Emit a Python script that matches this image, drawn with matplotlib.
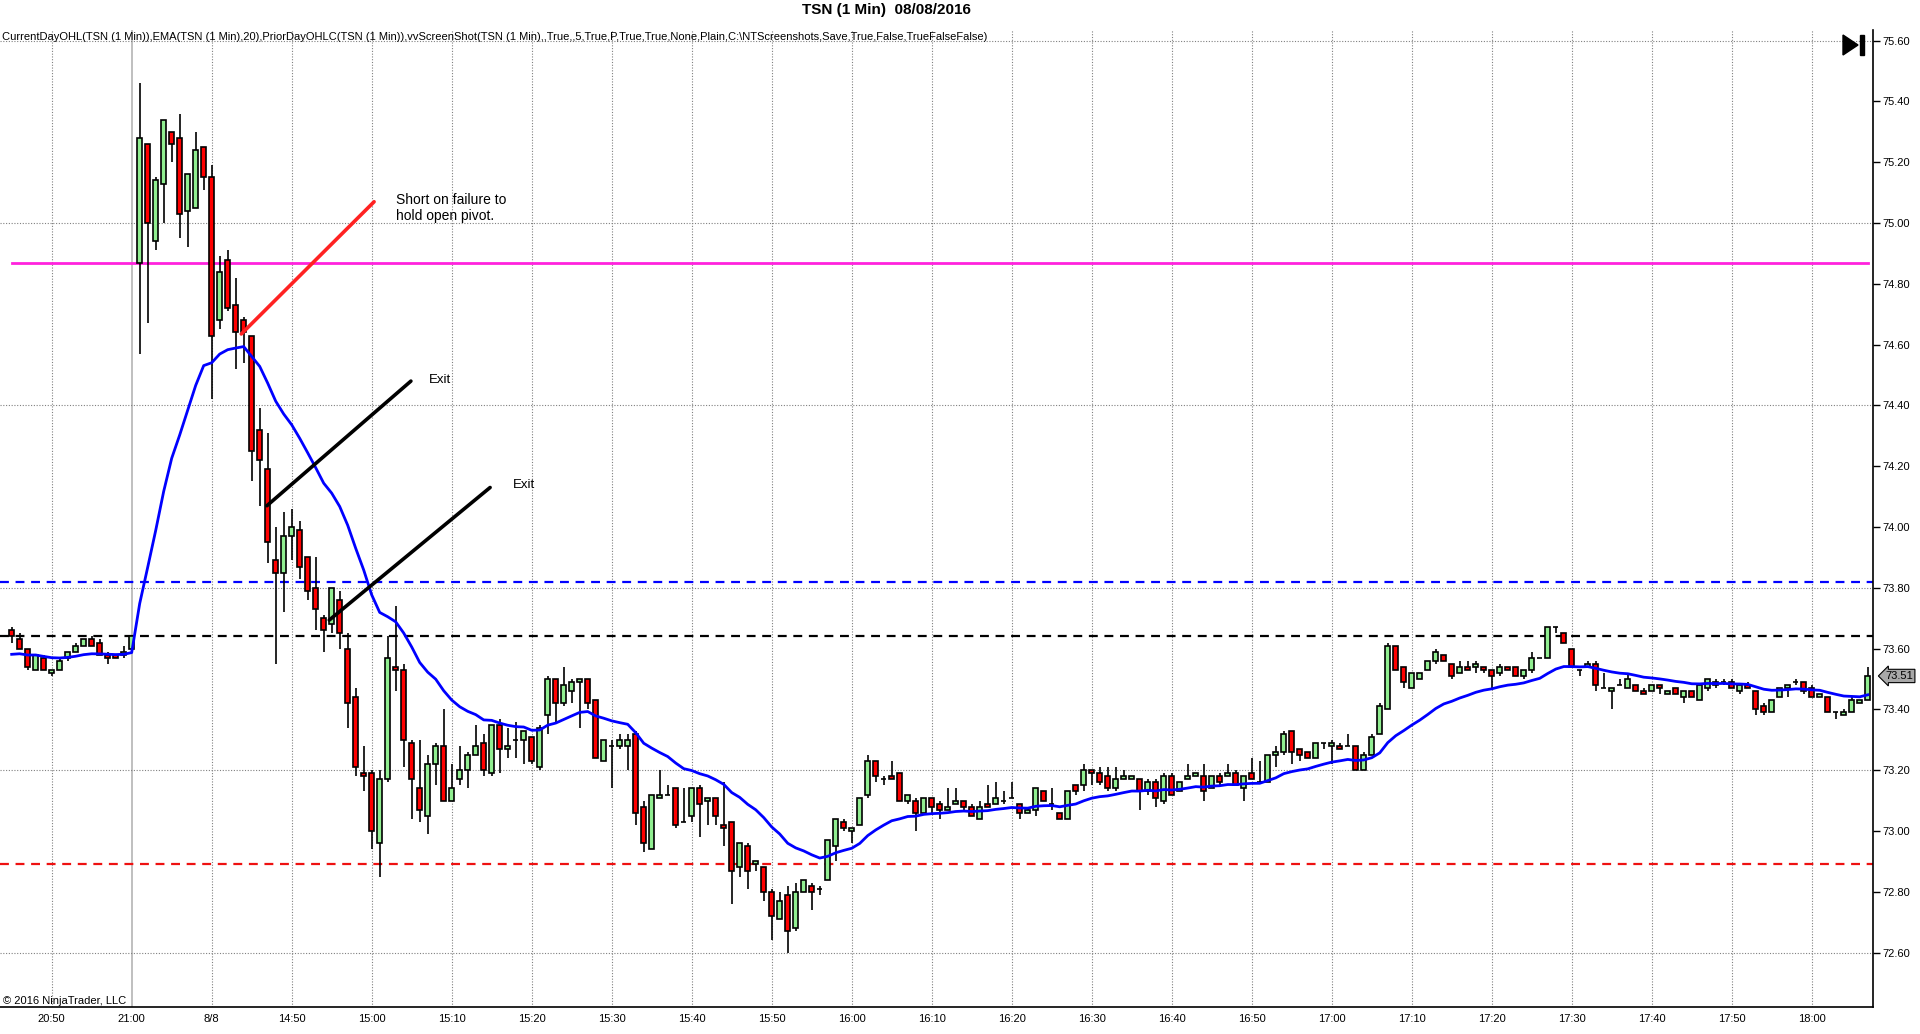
import numpy as np
import pandas as pd
import matplotlib
matplotlib.use("Agg")
import matplotlib.pyplot as plt
from matplotlib.patches import Polygon, Rectangle
from matplotlib.transforms import blended_transform_factory

plt.rcParams['font.family'] = ['Liberation Sans', 'DejaVu Sans']

# 1 minute bars, 20:45-21:00 of the prior session, then 14:31-18:07 on 8/8
opens = [73.66, 73.63, 73.60, 73.53, 73.57, 73.52, 73.53, 73.57, 73.59, 73.61,
         73.63, 73.62, 73.58, 73.58, 73.58, 73.60,
         74.87, 75.26, 74.94, 75.13, 75.30, 75.28, 75.04, 75.05, 75.25, 75.15,
         74.68, 74.88, 74.73, 74.68, 74.63, 74.32, 74.19, 73.89, 73.85, 73.97,
         73.99, 73.90, 73.80, 73.70, 73.68, 73.76, 73.60, 73.44, 73.19, 73.19,
         72.96, 73.17, 73.54, 73.53, 73.29, 73.14, 73.05, 73.22, 73.28, 73.10,
         73.17, 73.20, 73.25, 73.29, 73.19, 73.35, 73.27, 73.30, 73.30, 73.31,
         73.21, 73.38, 73.50, 73.42, 73.46, 73.49, 73.50, 73.43, 73.23, 73.28,
         73.28, 73.28, 73.32, 73.08, 72.94, 73.11, 73.12, 73.14, 73.03, 73.05,
         73.14, 73.10, 73.11, 73.02, 73.03, 72.88, 72.95, 72.89, 72.88, 72.80,
         72.71, 72.79, 72.68, 72.80, 72.82, 72.81, 72.84, 72.95, 73.03, 73.00,
         73.02, 73.12, 73.23, 73.17, 73.18, 73.19, 73.10, 73.10, 73.06, 73.11,
         73.09, 73.07, 73.09, 73.10, 73.08, 73.04, 73.09, 73.09, 73.10, 73.11,
         73.09, 73.06, 73.07, 73.13, 73.09, 73.06, 73.04, 73.15, 73.15, 73.20,
         73.19, 73.18, 73.14, 73.17, 73.17, 73.17, 73.13, 73.16, 73.10, 73.18,
         73.13, 73.17, 73.18, 73.18, 73.14, 73.18, 73.18, 73.19, 73.14, 73.19,
         73.16, 73.16, 73.25, 73.26, 73.33, 73.27, 73.26, 73.24, 73.29, 73.28,
         73.28, 73.28, 73.28, 73.20, 73.25, 73.32, 73.40, 73.61, 73.54, 73.47,
         73.50, 73.53, 73.56, 73.58, 73.55, 73.52, 73.54, 73.54, 73.54, 73.53,
         73.52, 73.54, 73.54, 73.51, 73.53, 73.57, 73.57, 73.67, 73.65, 73.60,
         73.53, 73.54, 73.55, 73.47, 73.46, 73.48, 73.47, 73.48, 73.46, 73.46,
         73.48, 73.45, 73.47, 73.44, 73.46, 73.43, 73.47, 73.49, 73.49, 73.49,
         73.46, 73.48, 73.46, 73.41, 73.39, 73.44, 73.47, 73.49, 73.49, 73.47,
         73.44, 73.44, 73.39, 73.38, 73.39, 73.42, 73.43]
highs = [73.67, 73.65, 73.60, 73.58, 73.58, 73.53, 73.57, 73.59, 73.62, 73.63,
         73.64, 73.63, 73.59, 73.58, 73.61, 73.64,
         75.46, 75.26, 75.15, 75.34, 75.30, 75.36, 75.16, 75.30, 75.25, 75.19,
         74.89, 74.91, 74.82, 74.69, 74.63, 74.39, 74.31, 74.00, 74.05, 74.06,
         74.02, 73.90, 73.90, 73.71, 73.80, 73.79, 73.65, 73.47, 73.28, 73.20,
         73.20, 73.64, 73.74, 73.55, 73.30, 73.30, 73.25, 73.29, 73.40, 73.22,
         73.28, 73.26, 73.35, 73.32, 73.35, 73.37, 73.34, 73.36, 73.33, 73.31,
         73.35, 73.51, 73.50, 73.54, 73.50, 73.50, 73.50, 73.43, 73.30, 73.30,
         73.32, 73.32, 73.33, 73.10, 73.12, 73.20, 73.15, 73.14, 73.14, 73.14,
         73.15, 73.11, 73.11, 73.16, 73.03, 72.96, 72.96, 72.90, 72.88, 72.81,
         72.80, 72.82, 72.83, 72.84, 72.83, 72.82, 72.97, 73.04, 73.04, 73.01,
         73.11, 73.25, 73.23, 73.18, 73.23, 73.19, 73.12, 73.11, 73.11, 73.11,
         73.10, 73.14, 73.14, 73.10, 73.09, 73.10, 73.15, 73.16, 73.13, 73.16,
         73.09, 73.08, 73.14, 73.13, 73.14, 73.06, 73.13, 73.15, 73.22, 73.20,
         73.21, 73.21, 73.21, 73.20, 73.18, 73.17, 73.17, 73.17, 73.19, 73.19,
         73.16, 73.22, 73.19, 73.22, 73.18, 73.19, 73.22, 73.20, 73.18, 73.24,
         73.23, 73.25, 73.28, 73.33, 73.33, 73.27, 73.26, 73.29, 73.29, 73.30,
         73.29, 73.32, 73.28, 73.26, 73.32, 73.42, 73.62, 73.61, 73.54, 73.52,
         73.52, 73.56, 73.60, 73.58, 73.55, 73.56, 73.56, 73.56, 73.54, 73.53,
         73.55, 73.54, 73.54, 73.53, 73.59, 73.57, 73.67, 73.67, 73.65, 73.60,
         73.53, 73.56, 73.56, 73.52, 73.47, 73.50, 73.52, 73.48, 73.47, 73.48,
         73.48, 73.46, 73.47, 73.46, 73.46, 73.48, 73.50, 73.50, 73.50, 73.50,
         73.48, 73.49, 73.46, 73.42, 73.43, 73.47, 73.48, 73.50, 73.49, 73.48,
         73.45, 73.44, 73.39, 73.40, 73.44, 73.43, 73.54]
lows = [73.62, 73.60, 73.53, 73.53, 73.53, 73.51, 73.53, 73.56, 73.59, 73.61,
        73.61, 73.58, 73.55, 73.57, 73.57, 73.60,
        74.57, 74.67, 74.91, 75.00, 75.20, 74.95, 74.92, 75.05, 75.11, 74.42,
        74.65, 74.71, 74.52, 74.54, 74.15, 74.07, 73.88, 73.55, 73.72, 73.89,
        73.83, 73.76, 73.66, 73.59, 73.65, 73.60, 73.34, 73.18, 73.13, 72.94,
        72.85, 73.16, 73.46, 73.21, 73.04, 73.03, 72.99, 73.15, 73.10, 73.10,
        73.15, 73.14, 73.25, 73.18, 73.18, 73.19, 73.24, 73.24, 73.22, 73.22,
        73.20, 73.32, 73.36, 73.41, 73.42, 73.34, 73.40, 73.24, 73.23, 73.14,
        73.27, 73.20, 73.02, 72.93, 72.94, 73.11, 73.12, 73.01, 73.03, 73.03,
        72.98, 73.02, 73.02, 72.95, 72.76, 72.85, 72.81, 72.87, 72.77, 72.64,
        72.71, 72.60, 72.67, 72.80, 72.74, 72.79, 72.84, 72.90, 73.00, 72.96,
        73.02, 73.11, 73.16, 73.15, 73.17, 73.10, 73.09, 73.00, 73.06, 73.06,
        73.04, 73.07, 73.09, 73.07, 73.05, 73.04, 73.08, 73.09, 73.09, 73.11,
        73.04, 73.06, 73.05, 73.10, 73.07, 73.04, 73.04, 73.12, 73.13, 73.15,
        73.15, 73.13, 73.13, 73.17, 73.17, 73.07, 73.12, 73.08, 73.09, 73.12,
        73.13, 73.17, 73.18, 73.10, 73.14, 73.15, 73.18, 73.15, 73.10, 73.17,
        73.16, 73.16, 73.21, 73.25, 73.22, 73.23, 73.24, 73.24, 73.27, 73.22,
        73.27, 73.28, 73.20, 73.20, 73.25, 73.32, 73.40, 73.53, 73.47, 73.47,
        73.50, 73.53, 73.55, 73.56, 73.50, 73.52, 73.53, 73.52, 73.52, 73.47,
        73.51, 73.53, 73.51, 73.50, 73.52, 73.57, 73.57, 73.65, 73.62, 73.54,
        73.51, 73.54, 73.46, 73.47, 73.40, 73.48, 73.47, 73.46, 73.45, 73.46,
        73.45, 73.45, 73.45, 73.42, 73.44, 73.43, 73.46, 73.47, 73.48, 73.47,
        73.45, 73.47, 73.38, 73.38, 73.39, 73.44, 73.44, 73.48, 73.45, 73.44,
        73.44, 73.39, 73.37, 73.38, 73.39, 73.42, 73.43]
closes = [73.64, 73.60, 73.54, 73.58, 73.53, 73.53, 73.56, 73.59, 73.61, 73.63,
          73.61, 73.58, 73.57, 73.57, 73.59, 73.64,
          75.28, 75.00, 75.14, 75.34, 75.26, 75.03, 75.16, 75.24, 75.15, 74.63,
          74.84, 74.72, 74.64, 74.64, 74.25, 74.22, 73.95, 73.85, 73.97, 74.00,
          73.87, 73.79, 73.73, 73.66, 73.80, 73.65, 73.42, 73.21, 73.18, 73.00,
          73.17, 73.57, 73.53, 73.30, 73.17, 73.07, 73.22, 73.28, 73.10, 73.14,
          73.20, 73.25, 73.28, 73.20, 73.35, 73.27, 73.28, 73.30, 73.33, 73.23,
          73.34, 73.50, 73.42, 73.48, 73.49, 73.50, 73.42, 73.24, 73.30, 73.28,
          73.30, 73.30, 73.06, 72.96, 73.12, 73.12, 73.12, 73.02, 73.03, 73.14,
          73.09, 73.11, 73.05, 73.01, 72.87, 72.96, 72.87, 72.90, 72.80, 72.72,
          72.77, 72.67, 72.80, 72.84, 72.80, 72.81, 72.97, 73.04, 73.01, 73.01,
          73.11, 73.23, 73.18, 73.17, 73.17, 73.10, 73.12, 73.06, 73.11, 73.08,
          73.07, 73.08, 73.10, 73.08, 73.05, 73.08, 73.08, 73.11, 73.10, 73.11,
          73.06, 73.07, 73.14, 73.10, 73.09, 73.04, 73.13, 73.13, 73.20, 73.19,
          73.16, 73.14, 73.17, 73.18, 73.18, 73.13, 73.16, 73.11, 73.18, 73.12,
          73.16, 73.18, 73.19, 73.13, 73.18, 73.16, 73.19, 73.15, 73.18, 73.17,
          73.16, 73.25, 73.26, 73.32, 73.26, 73.25, 73.24, 73.29, 73.29, 73.29,
          73.27, 73.28, 73.20, 73.25, 73.31, 73.41, 73.61, 73.53, 73.49, 73.52,
          73.52, 73.56, 73.59, 73.56, 73.51, 73.54, 73.53, 73.55, 73.53, 73.51,
          73.54, 73.53, 73.51, 73.53, 73.57, 73.57, 73.67, 73.67, 73.62, 73.54,
          73.53, 73.55, 73.48, 73.47, 73.47, 73.48, 73.50, 73.46, 73.45, 73.48,
          73.47, 73.46, 73.45, 73.46, 73.44, 73.48, 73.50, 73.48, 73.49, 73.47,
          73.48, 73.47, 73.40, 73.39, 73.43, 73.47, 73.48, 73.49, 73.46, 73.44,
          73.45, 73.39, 73.39, 73.39, 73.43, 73.43, 73.51]

ema_seed = 73.575     # EMA(20) value carried in from before the first visible bar
ema_span = 20

time_labels = ["20:50", "21:00", "8/8", "14:50", "15:00", "15:10", "15:20", "15:30",
               "15:40", "15:50", "16:00", "16:10", "16:20", "16:30", "16:40", "16:50",
               "17:00", "17:10", "17:20", "17:30", "17:40", "17:50", "18:00"]

current_open = 74.87
prior_high = 73.82
prior_close = 73.64
prior_low = 72.89
last_price = closes[-1]

indicator_text = ("CurrentDayOHL(TSN (1 Min)),EMA(TSN (1 Min),20),PriorDayOHLC(TSN (1 Min)),"
                  "vvScreenShot(TSN (1 Min),,True,,5,True,P,True,True,None,Plain,"
                  "C:\\NTScreenshots,Save,True,False,TrueFalseFalse)")

df = pd.DataFrame({'open': opens, 'high': highs, 'low': lows, 'close': closes})
x = np.arange(len(df))
ema = pd.Series([ema_seed] + closes).ewm(span=ema_span, adjust=False).mean().iloc[1:].values

fig = plt.figure(figsize=(19.2, 10.34), dpi=100)
ax = fig.add_axes([0, 27 / 1034, 1873 / 1920, 977 / 1034])
ax.set_xlim(-1.46, 232.65)
ax.set_ylim(72.421, 75.635)

# grid
tick_pos = 5 + 10 * np.arange(len(time_labels))
dot = (0, (1, 1.5))
for tp, lab in zip(tick_pos, time_labels):
    if lab == "21:00":
        ax.axvline(tp, color='#b4b4b4', lw=1.2, zorder=1)
    else:
        ax.axvline(tp, color='#808080', lw=0.8, ls=dot, zorder=1)
for gy in np.arange(72.6, 75.61, 0.6):
    ax.axhline(gy, color='#808080', lw=0.8, ls=dot, zorder=1)

# prior / current day levels
ax.axhline(prior_high, color='#0000ff', lw=1.6, ls=(0, (4, 3)), zorder=2)
ax.axhline(prior_close, color='black', lw=1.6, ls=(0, (4, 3)), zorder=2)
ax.axhline(prior_low, color='#ee1111', lw=1.6, ls=(0, (4, 3)), zorder=2)
ax.plot([x[0], x[-1]], [current_open, current_open], color='#ff22dd', lw=2, zorder=2)

# candles
up = df['close'] > df['open']
colors = np.where(up, '#90ee90', '#ff0000')
ax.vlines(x, df['low'], df['high'], color='black', lw=1.2, zorder=3)
bottoms = np.minimum(df['open'], df['close'])
heights = np.abs(df['close'] - df['open'])
ax.bar(x, heights, width=0.62, bottom=bottoms, color=colors, edgecolor='black',
       linewidth=1.2, zorder=4)

# EMA
ax.plot(x, ema, color='#0000ff', lw=2, zorder=5)

# drawn trade notes
ax.plot([28.7, 45.3], [74.635, 75.07], color='#ff2222', lw=2.6, zorder=6,
        solid_capstyle='round')
ax.text(48.0, 75.05, "Short on failure to\nhold open pivot.", fontsize=10,
        ha='left', va='center', linespacing=1.2, zorder=7)
ax.plot([31.9, 49.9], [74.07, 74.48], color='black', lw=2.6, zorder=6,
        solid_capstyle='round')
ax.text(52.2, 74.485, "Exit", fontsize=9.5, ha='left', va='center', zorder=7)
ax.plot([39.7, 59.8], [73.694, 74.13], color='black', lw=2.6, zorder=6,
        solid_capstyle='round')
ax.text(62.7, 74.138, "Exit", fontsize=9.5, ha='left', va='center', zorder=7)

# axes styling
for side in ['left', 'top']:
    ax.spines[side].set_visible(False)
ax.spines['right'].set_linewidth(1.2)
ax.spines['bottom'].set_linewidth(1.2)
ax.yaxis.tick_right()
ax.set_yticks(np.round(np.arange(72.6, 75.61, 0.2), 2))
ax.set_yticklabels(["%.2f" % v for v in np.arange(72.6, 75.61, 0.2)])
ax.tick_params(axis='y', direction='out', length=5, width=1, pad=2, labelsize=8)
ax.set_xticks(tick_pos)
ax.set_xticklabels(time_labels)
ax.tick_params(axis='x', length=0, pad=5, labelsize=8)

# last price marker
tr = blended_transform_factory(ax.transAxes, ax.transData)
ax.annotate("%.2f" % last_price, xy=(1.0, last_price), xycoords=tr,
            xytext=(9, 0), textcoords='offset points', fontsize=8,
            ha='left', va='center', annotation_clip=False, zorder=8,
            bbox=dict(boxstyle='larrow,pad=0.15', fc='#a8a8a8', ec='black', lw=0.8))

# texts
fig.text(886 / 1920, 1 - 10 / 1034, "TSN (1 Min)  08/08/2016", fontsize=11,
         fontweight='bold', ha='center', va='center')
fig.text(2 / 1920, 1 - 37 / 1034, indicator_text, fontsize=8, ha='left', va='center')
fig.text(3 / 1920, 1 - 1001 / 1034, "\u00a9 2016 NinjaTrader, LLC", fontsize=8,
         ha='left', va='center')

# play-to-end icon
W, H = 1920, 1034
tri = Polygon([(1843 / W, 1 - 35 / H), (1843 / W, 1 - 55 / H), (1858 / W, 1 - 45 / H)],
              closed=True, transform=fig.transFigure, color='black')
fig.patches.append(tri)
fig.patches.append(Rectangle((1860 / W, 1 - 55 / H), 4 / W, 20 / H,
                             transform=fig.transFigure, color='black'))

fig.savefig("out.png", dpi=100, facecolor='white')
